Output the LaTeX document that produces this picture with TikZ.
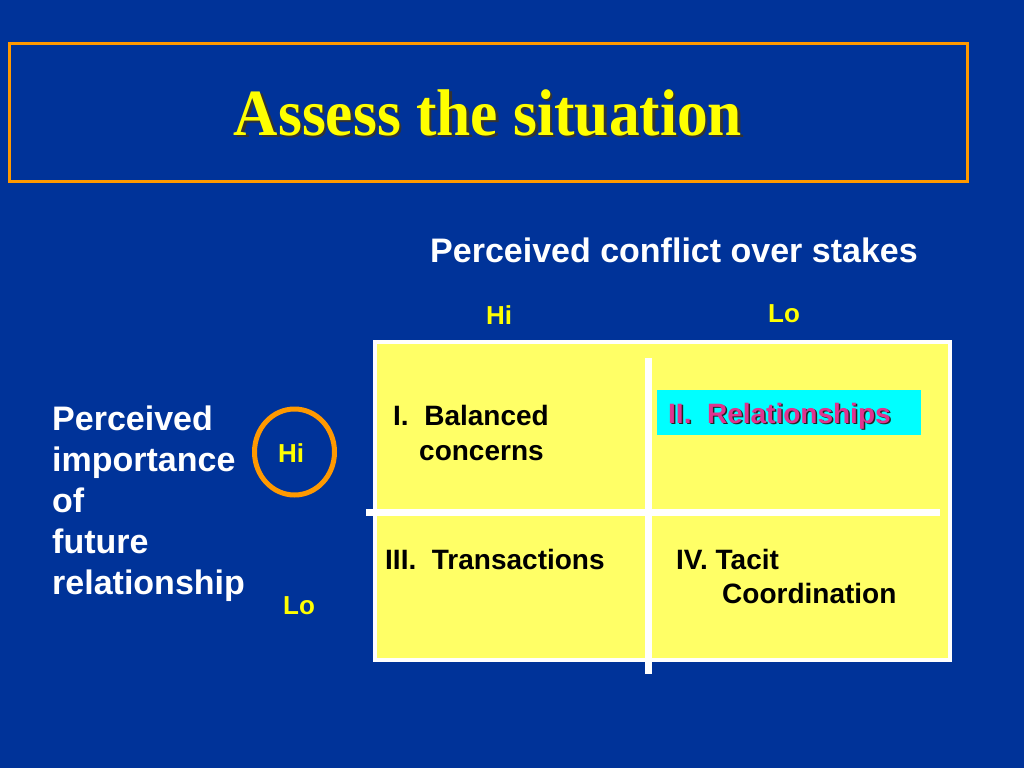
\documentclass[tikz,border=0pt]{standalone}
\usepackage{fontspec}
\usetikzlibrary{shapes.geometric}
\setmainfont{Liberation Sans}
\newfontfamily\titlefont{Liberation Serif}
\definecolor{bgblue}{HTML}{003399}
\definecolor{frameorange}{HTML}{FF9900}
\definecolor{titleyellow}{HTML}{FFFF00}
\definecolor{cellyellow}{HTML}{FFFF66}
\definecolor{relcyan}{HTML}{00FFFF}
\definecolor{relpink}{HTML}{E0338F}
\tikzset{
  lbl/.style={anchor=base west, inner sep=0pt, font=\fontsize{34}{41}\selectfont\bfseries, text=white},
  axis/.style={anchor=base, inner sep=0pt, font=\fontsize{26}{30}\selectfont\bfseries, text=titleyellow},
  cell/.style={anchor=base west, inner sep=0pt, font=\fontsize{28}{34}\selectfont\bfseries, text=black},
  divider/.style={draw=white, line width=7pt},
}
\begin{document}
\begin{tikzpicture}[x=1pt,y=-1pt]
\fill[bgblue] (0,0) rectangle (1024,768);
\useasboundingbox (0,0) rectangle (1024,768);
% title frame
\node[draw=frameorange, line width=3pt, minimum width=958pt, minimum height=138pt, anchor=north west, inner sep=0pt] (frame) at (8,42) {};
\node[anchor=base, inner sep=0pt, text=black!80, font=\titlefont\fontsize{66}{70}\selectfont\bfseries] (titleshadow) at (490.5,137.5) {\scalebox{0.93}[1]{Assess the situation}};
\node[anchor=base, inner sep=0pt, text=titleyellow, font=\titlefont\fontsize{66}{70}\selectfont\bfseries] (title) at (488,135) {\scalebox{0.93}[1]{Assess the situation}};
% column heading
\node[lbl] (colhead) at (430,262) {Perceived conflict over stakes};
\node[axis] (colhi) at (499,324) {Hi};
\node[axis] (collo) at (784,322) {Lo};
% row heading
\node[lbl] (r1) at (52,430) {Perceived};
\node[lbl] (r2) at (52,471) {importance};
\node[lbl] (r3) at (52,512) {of};
\node[lbl] (r4) at (52,553) {future};
\node[lbl] (r5) at (52,594) {relationship};
\node[draw=frameorange, line width=5pt, ellipse, minimum width=80pt, minimum height=86pt, inner sep=0pt] (hiring) at (294.5,452) {};
\node[axis] (rowhi) at (291,462) {Hi};
\node[axis] (rowlo) at (299,614) {Lo};
% grid
\node[draw=white, line width=4pt, fill=cellyellow, anchor=north west, minimum width=575pt, minimum height=318pt, inner sep=0pt] (grid) at (373,340) {};
\coordinate (vtop) at (648,358);
\coordinate (vbot) at (648,674);
\coordinate (hleft) at (366,512);
\coordinate (hright) at (940,512);
\draw[divider] (vtop) -- (vbot);
\draw[divider] (hleft) -- (hright);
% cells
\node[cell] (c1a) at (393,425) {I.\ \ Balanced};
\node[cell] (c1b) at (419,460) {concerns};
\node[fill=relcyan, anchor=north west, minimum width=264pt, minimum height=45pt, inner sep=0pt] (relbox) at (657,390) {};
\node[cell, text=black!85] (c2shadow) at (669.5,424.5) {II.\ \ Relationships};
\node[cell, text=relpink] (c2) at (668,423) {II.\ \ Relationships};
\node[cell] (c3) at (385,569) {III.\ \ Transactions};
\node[cell] (c4a) at (676,569) {IV. Tacit};
\node[cell] (c4b) at (722,603) {Coordination};
\end{tikzpicture}
\end{document}
